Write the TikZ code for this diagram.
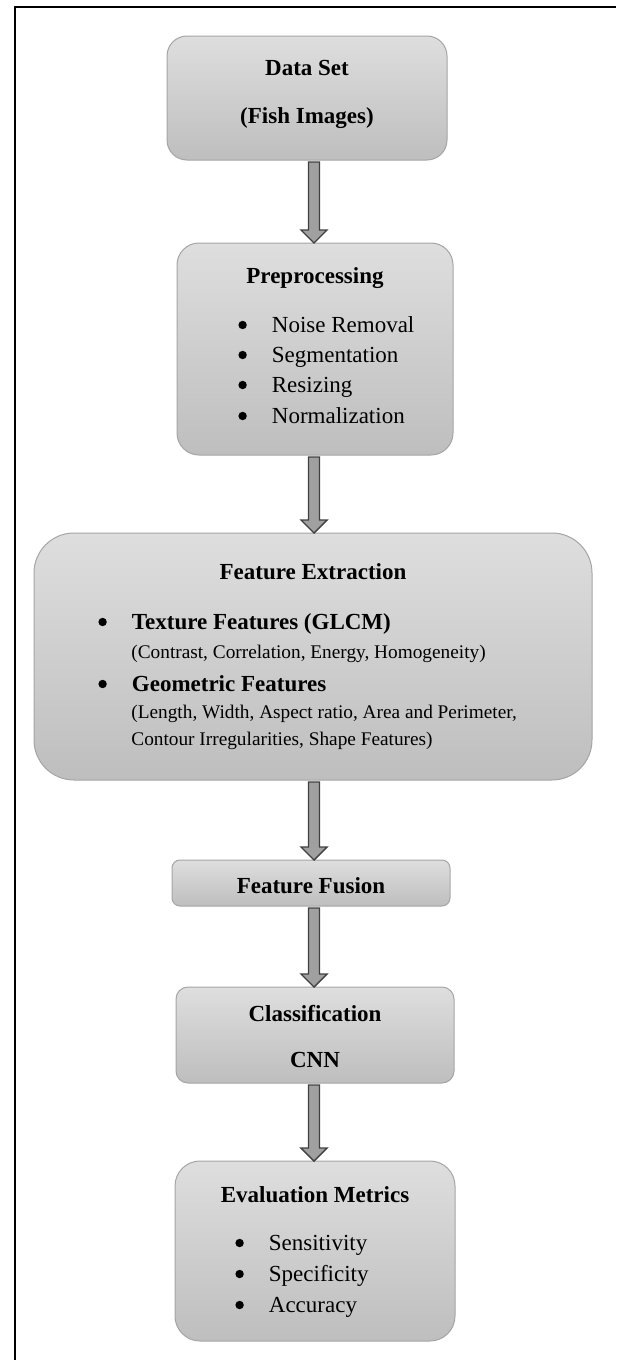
\documentclass[tikz,border=0pt]{standalone}
\usepackage{fontspec}
\setmainfont{Liberation Serif}
\usetikzlibrary{calc}

\definecolor{boxtop}{RGB}{222,222,222}
\definecolor{boxbot}{RGB}{190,190,190}
\definecolor{boxline}{RGB}{165,165,165}
\definecolor{arrowfill}{RGB}{160,160,160}
\definecolor{arrowline}{RGB}{64,64,64}

\tikzset{
  stage/.style={draw=boxline, line width=0.5pt, top color=boxtop, bottom color=boxbot,
                inner sep=0pt, outer sep=0pt},
  head/.style={anchor=base, inner sep=0pt, font=\fontsize{11.5}{13}\selectfont\bfseries},
  item/.style={anchor=base west, inner sep=0pt, font=\fontsize{11.5}{13}\selectfont},
  bolditem/.style={item, font=\fontsize{11.5}{13}\selectfont\bfseries},
  note/.style={anchor=base west, inner sep=0pt, font=\fontsize{9.65}{11}\selectfont},
  flow/.style={fill=arrowfill, draw=arrowline, line width=0.7pt, line join=miter},
  frame/.style={line width=1.1pt, draw=black},
}

% round bullet followed by a fixed tab
\newcommand\bul{\makebox[16.75pt][l]{\tikz[baseline=0pt]\fill[black] (2pt,3.5pt) circle (2.1pt);}}

% block arrow from the bottom of one stage to the top of the next
\newcommand\flowarrow[2]{%
  \path[flow] let \p1=(#1.south -| col), \p2=(#2.north -| col) in
    (\x1-2.75pt,\y1-1pt) -- (\x1+2.75pt,\y1-1pt) -- (\x1+2.75pt,\y2+6.5pt)
    -- (\x1+6.5pt,\y2+6.5pt) -- (\x1,\y2) -- (\x1-6.5pt,\y2+6.5pt)
    -- (\x1-2.75pt,\y2+6.5pt) -- cycle;}

\begin{document}
\begin{tikzpicture}[x=0.5pt,y=-0.5pt]
\useasboundingbox (0,0) rectangle (616,1360);

% page frame (top and left edges)
\draw[frame] (14.7,1360) -- (14.7,7) -- (616,7);

\coordinate (col) at (314,0);

% stages
\node[stage, rounded corners=10pt, minimum width=140pt, minimum height=62pt] (ds) at (307,98) {};
\node[head] (dsA) at (307,75) {Data Set};
\node[head] (dsB) at (307,123) {(Fish Images)};

\node[stage, rounded corners=11pt, minimum width=138pt, minimum height=106pt] (pre) at (315,349) {};
\node[head] (preH) at (315,283) {Preprocessing};
\node[item] (pre1) at (238,332) {\bul Noise Removal};
\node[item] (pre2) at (238,362) {\bul Segmentation};
\node[item] (pre3) at (238,392) {\bul Resizing};
\node[item] (pre4) at (238,423) {\bul Normalization};

\node[stage, rounded corners=20pt, minimum width=279pt, minimum height=123.5pt] (fe) at (313,656.5) {};
\node[head] (feH) at (313,579) {Feature Extraction};
\node[bolditem] (fe1) at (98,629) {\bul Texture Features (GLCM)};
\node[note] (fe1n) at (131,658) {(Contrast, Correlation, Energy, Homogeneity)};
\node[bolditem] (fe2) at (98,691) {\bul Geometric Features};
\node[note] (fe2n) at (131,718.5) {(Length, Width, Aspect ratio, Area and Perimeter,};
\node[note] (fe2m) at (131,745.5) {Contour Irregularities, Shape Features)};

\node[stage, rounded corners=4pt, minimum width=139pt, minimum height=23pt] (ff) at (311,883) {};
\node[head] (ffH) at (311,893) {Feature Fusion};

\node[stage, rounded corners=6pt, minimum width=139pt, minimum height=48pt] (cls) at (315,1035) {};
\node[head] (clsA) at (315,1021) {Classification};
\node[head] (clsB) at (315,1067) {CNN};

\node[stage, rounded corners=12.5pt, minimum width=140pt, minimum height=90pt] (ev) at (315,1251) {};
\node[head] (evH) at (315,1202) {Evaluation Metrics};
\node[item] (ev1) at (235,1250) {\bul Sensitivity};
\node[item] (ev2) at (235,1281) {\bul Specificity};
\node[item] (ev3) at (235,1312) {\bul Accuracy};

% connectors
\flowarrow{ds}{pre}
\flowarrow{pre}{fe}
\flowarrow{fe}{ff}
\flowarrow{ff}{cls}
\flowarrow{cls}{ev}
\end{tikzpicture}
\end{document}
